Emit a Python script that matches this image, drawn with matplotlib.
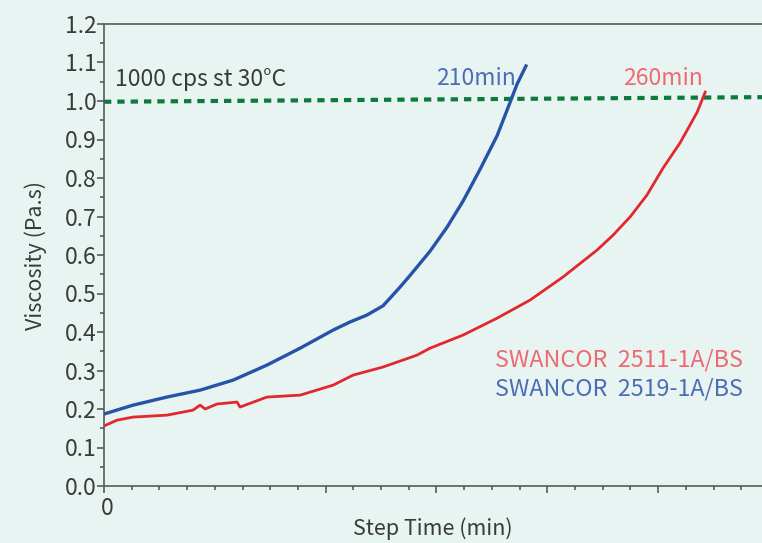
import matplotlib
matplotlib.use("Agg")
import matplotlib.pyplot as plt
import matplotlib.transforms as mtransforms

plt.rcParams['font.family'] = ['Noto Sans CJK SC', 'DejaVu Sans']

# --- data (x in arbitrary minute units) ---
blue_x = [0, 10.5, 22.7, 34.7, 46.6, 58.8, 70.8, 82.7, 88.8, 94.9, 100.7,
          103.5, 106.9, 110.0, 113.0, 117.7, 123.8, 129.6, 135.7, 141.9,
          146.6, 149.1, 152.3]
blue_y = [0.187, 0.210, 0.231, 0.249, 0.275, 0.314, 0.358, 0.405, 0.426, 0.444,
          0.468, 0.490, 0.517, 0.543, 0.569, 0.610, 0.672, 0.740, 0.822, 0.910,
          0.997, 1.044, 1.091]

red_x = [0, 4.7, 10.5, 22.7, 32.1, 34.7, 36.5, 40.8, 48.0, 49.1, 58.8, 70.8,
         82.7, 89.9, 100.7, 113.0, 117.7, 129.6, 141.9, 153.8, 165.7, 178.0,
         183.8, 189.9, 196.0, 201.8, 207.9, 214.1, 217.0]
red_y = [0.156, 0.171, 0.179, 0.184, 0.197, 0.210, 0.200, 0.213, 0.218, 0.205,
         0.231, 0.236, 0.262, 0.288, 0.309, 0.340, 0.358, 0.392, 0.436, 0.483,
         0.543, 0.613, 0.652, 0.699, 0.756, 0.826, 0.891, 0.971, 1.023]

limit_x = [0, 237.5]
limit_y = [0.998, 1.010]

y_ticks = [i / 10 for i in range(13)]
y_labels = ['%.1f' % v for v in y_ticks]

BG = '#e8f4f1'
TXT = '#3a3a3a'
AX = '#5a5a5a'

fig = plt.figure(figsize=(7.62, 5.43), dpi=100)
fig.patch.set_facecolor(BG)
ax = fig.add_axes([104 / 762, 57 / 543, 658 / 762, 462 / 543])
ax.set_facecolor(BG)

ax.plot(limit_x, limit_y, color='#0b7a3b', lw=3, dashes=(1.75, 1.45), zorder=2)
ax.plot(blue_x, blue_y, color='#2553a8', lw=2.4, zorder=3)
ax.plot(red_x, red_y, color='#e0282e', lw=2.0, zorder=3)

ax.set_xlim(0, 237.5)
ax.set_ylim(0, 1.2)

ax.spines['right'].set_visible(False)
for side in ['left', 'bottom', 'top']:
    ax.spines[side].set_color(AX)
    ax.spines[side].set_linewidth(1.2)

ax.set_yticks(y_ticks)
ax.set_yticklabels(y_labels)
ax.set_yticks([v + 0.05 for v in y_ticks[:-1]], minor=True)
ax.set_xticks([0, 80, 120, 160, 200])
ax.set_xticklabels(['0', '', '', '', ''])
ax.set_xticks(range(10, 240, 10), minor=True)

ax.tick_params(axis='both', which='major', direction='out', length=5, width=1.2,
               color=AX, labelcolor=TXT, labelsize=16.5, pad=0.5)
ax.tick_params(axis='both', which='minor', direction='out', length=3, width=1.2, color=AX)
ax.tick_params(axis='x', which='major', pad=3)

# the "0" sits a little right of its tick
shift = mtransforms.ScaledTranslation(3 / 100, 0, fig.dpi_scale_trans)
for lbl in ax.get_xticklabels():
    lbl.set_transform(lbl.get_transform() + shift)

ax.set_xlabel('Step Time (min)', fontsize=15.5, color=TXT, labelpad=-2)
ax.set_ylabel('Viscosity (Pa.s)', fontsize=15.5, color=TXT, labelpad=13)

ax.text(4, 1.056, '1000 cps st 30°C', fontsize=16.5, color=TXT, va='center', ha='left')
ax.text(148.5, 1.058, '210min', fontsize=16.5, color='#4a6db5', va='center', ha='right')
ax.text(216, 1.058, '260min', fontsize=16.5, color='#ee6a70', va='center', ha='right')
ax.text(230.5, 0.327, 'SWANCOR  2511-1A/BS', fontsize=16.8, color='#ee6a70', va='center', ha='right')
ax.text(230.5, 0.252, 'SWANCOR  2519-1A/BS', fontsize=16.8, color='#4a6db5', va='center', ha='right')

fig.savefig('out.png', dpi=100, facecolor=BG)
